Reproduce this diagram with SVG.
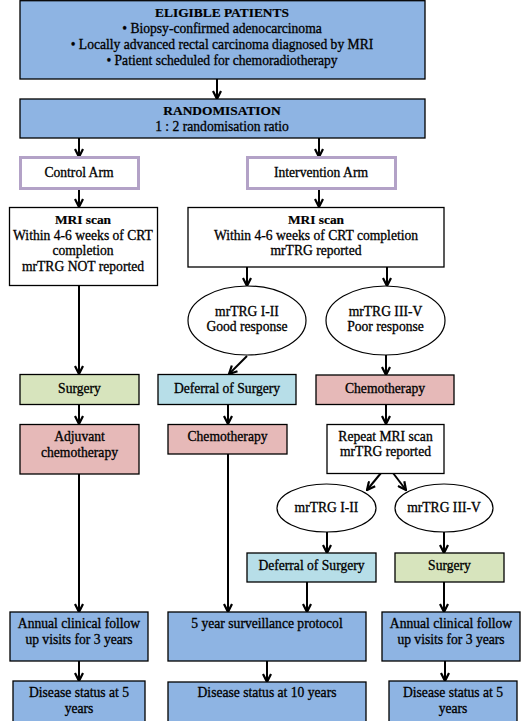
<svg xmlns="http://www.w3.org/2000/svg" width="521" height="721" viewBox="0 0 521 721">
<defs>
<marker id="ah" viewBox="0 0 10 10" refX="9" refY="5" markerWidth="10" markerHeight="10" markerUnits="userSpaceOnUse" orient="auto">
<path d="M1,1 L9,5 L1,9" fill="none" stroke="#000" stroke-width="2.2"/>
</marker>
</defs>
<style>
text{font-family:"Liberation Serif","DejaVu Serif",serif;font-size:13.6px;fill:#000;stroke:#000;stroke-width:0.3;text-anchor:middle}
.b{font-weight:bold;font-size:13.4px;stroke-width:0.2}
.box{stroke:#000;stroke-width:1.3}
.blue{fill:#8EB4E3}
.white{fill:#fff}
.green{fill:#D7E4BD}
.pink{fill:#E6B9B8}
.lblue{fill:#B7DEE8}
.arm{fill:#fff;stroke:#B3A2C7;stroke-width:3}
.ell{fill:#fff;stroke:#000;stroke-width:1.2}
.c line{stroke:#000;stroke-width:2;fill:none;marker-end:url(#ah)}
</style>
<rect width="521" height="721" fill="#fff"/>
<g class="c" id="connectors">
<line x1="217" y1="79" x2="217" y2="99"/>
<line x1="79" y1="138" x2="79" y2="157"/>
<line x1="319" y1="138" x2="319" y2="157"/>
<line x1="79" y1="189" x2="79" y2="207"/>
<line x1="319" y1="189" x2="319" y2="207"/>
<line x1="247" y1="267" x2="247" y2="286"/>
<line x1="387" y1="267" x2="387" y2="286"/>
<line x1="79" y1="286" x2="79" y2="374"/>
<line x1="79" y1="404" x2="79" y2="424"/>
<line x1="79" y1="474" x2="79" y2="612"/>
<line x1="247" y1="356" x2="229" y2="374"/>
<line x1="228" y1="404" x2="228" y2="424"/>
<line x1="228" y1="454" x2="228" y2="612"/>
<line x1="386" y1="355" x2="386" y2="375"/>
<line x1="386" y1="404" x2="386" y2="424"/>
<line x1="381" y1="473" x2="367" y2="490"/>
<line x1="393" y1="473" x2="406" y2="490"/>
<line x1="327" y1="532" x2="327" y2="553"/>
<line x1="444" y1="532" x2="444" y2="553"/>
<line x1="307" y1="582" x2="307" y2="612"/>
<line x1="444" y1="582" x2="444" y2="612"/>
<line x1="79" y1="661" x2="79" y2="681"/>
<line x1="267" y1="661" x2="267" y2="682"/>
<line x1="445" y1="661" x2="445" y2="681"/>
</g>
<g id="eligible">
<rect class="box blue" x="20" y="0.7" width="405" height="78.3"/>
<text class="b" x="222" y="17">ELIGIBLE PATIENTS</text>
<text x="222" y="33">•   Biopsy-confirmed adenocarcinoma</text>
<text x="222" y="49">•   Locally advanced rectal carcinoma diagnosed by MRI</text>
<text x="222" y="65">•   Patient scheduled for chemoradiotherapy</text>
</g>
<g id="randomisation">
<rect class="box blue" x="20" y="99" width="405" height="39"/>
<text class="b" x="222" y="115">RANDOMISATION</text>
<text x="222" y="131">1 : 2 randomisation ratio</text>
</g>
<g id="control-arm">
<rect class="arm" x="20.5" y="157.5" width="118" height="31"/>
<text x="79" y="177">Control Arm</text>
</g>
<g id="intervention-arm">
<rect class="arm" x="247.5" y="157.5" width="148" height="31"/>
<text x="321" y="177">Intervention Arm</text>
</g>
<g id="mri-control">
<rect class="box white" x="9.5" y="207.5" width="148" height="78"/>
<text class="b" x="83" y="224">MRI scan</text>
<text x="83" y="240">Within 4-6 weeks of CRT</text>
<text x="83" y="255">completion</text>
<text x="83" y="271">mrTRG NOT reported</text>
</g>
<g id="mri-intervention">
<rect class="box white" x="188" y="207.5" width="256" height="59.5"/>
<text class="b" x="316" y="224">MRI scan</text>
<text x="316" y="240">Within 4-6 weeks of CRT completion</text>
<text x="316" y="255">mrTRG reported</text>
</g>
<g id="good-response">
<ellipse class="ell" cx="247" cy="320.5" rx="59" ry="34.5"/>
<text x="247" y="316">mrTRG I-II</text>
<text x="247" y="331">Good response</text>
</g>
<g id="poor-response">
<ellipse class="ell" cx="385.5" cy="320.5" rx="59.5" ry="34.5"/>
<text x="385.5" y="316">mrTRG III-V</text>
<text x="385.5" y="331">Poor response</text>
</g>
<g id="surgery-control">
<rect class="box green" x="20" y="374.5" width="119" height="30"/>
<text x="79.5" y="393">Surgery</text>
</g>
<g id="adjuvant">
<rect class="box pink" x="20" y="424.5" width="119" height="49.5"/>
<text x="79.5" y="441">Adjuvant</text>
<text x="79.5" y="457">chemotherapy</text>
</g>
<g id="deferral-1">
<rect class="box lblue" x="158" y="374.5" width="138" height="30"/>
<text x="227" y="393">Deferral of Surgery</text>
</g>
<g id="chemo-left">
<rect class="box pink" x="168" y="424.5" width="119" height="29.5"/>
<text x="227.5" y="441">Chemotherapy</text>
</g>
<g id="chemo-right">
<rect class="box pink" x="316" y="375" width="138" height="29.5"/>
<text x="385" y="393">Chemotherapy</text>
</g>
<g id="repeat-mri">
<rect class="box white" x="327" y="424.5" width="117" height="49"/>
<text x="385.5" y="441">Repeat MRI scan</text>
<text x="385.5" y="456">mrTRG reported</text>
</g>
<g id="trg-good-2">
<ellipse class="ell" cx="326.5" cy="508" rx="49.5" ry="24"/>
<text x="326.5" y="512">mrTRG I-II</text>
</g>
<g id="trg-poor-2">
<ellipse class="ell" cx="444" cy="508" rx="49" ry="24"/>
<text x="444" y="512">mrTRG III-V</text>
</g>
<g id="deferral-2">
<rect class="box lblue" x="247" y="553" width="129" height="29"/>
<text x="311.5" y="570">Deferral of Surgery</text>
</g>
<g id="surgery-2">
<rect class="box green" x="395" y="553" width="109" height="29"/>
<text x="449.5" y="570">Surgery</text>
</g>
<g id="annual-left">
<rect class="box blue" x="10" y="612" width="138" height="49"/>
<text x="79" y="628">Annual clinical follow</text>
<text x="79" y="644">up visits for 3 years</text>
</g>
<g id="surveillance">
<rect class="box blue" x="168" y="612" width="198" height="49"/>
<text x="267" y="628">5 year surveillance protocol</text>
</g>
<g id="annual-right">
<rect class="box blue" x="382" y="612" width="138" height="49"/>
<text x="451" y="628">Annual clinical follow</text>
<text x="451" y="644">up visits for 3 years</text>
</g>
<g id="status-left">
<rect class="box blue" x="13" y="681" width="132" height="41"/>
<text x="79" y="697">Disease status at 5</text>
<text x="79" y="713">years</text>
</g>
<g id="status-mid">
<rect class="box blue" x="168" y="682" width="198" height="40"/>
<text x="267" y="697">Disease status at 10 years</text>
</g>
<g id="status-right">
<rect class="box blue" x="389" y="681" width="128" height="41"/>
<text x="453" y="697">Disease status at 5</text>
<text x="453" y="713">years</text>
</g>
</svg>
